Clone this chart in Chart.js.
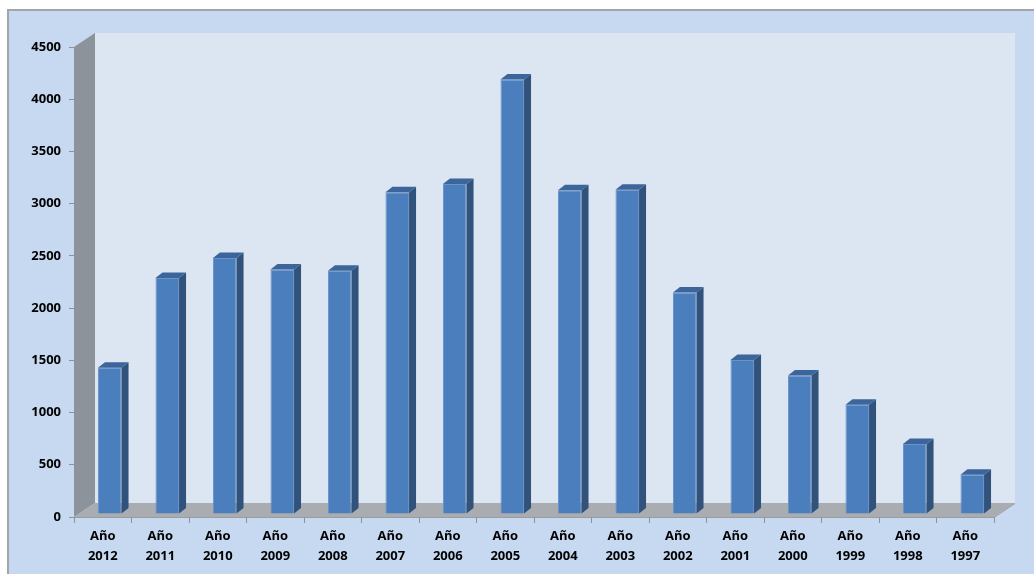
<!DOCTYPE html>
<html>
<head>
<meta charset="utf-8">
<script src="https://cdn.jsdelivr.net/npm/chart.js@4/dist/chart.umd.min.js"></script>
<style>
  html, body { margin: 0; padding: 0; background: #ffffff; }
  #wrap { width: 1034px; height: 574px; }
</style>
</head>
<body>
<div id="wrap"><canvas id="c" width="1034" height="574"></canvas></div>
<script>
// ---- data ----
const labelPrefix = 'Año';
const years = ['2012','2011','2010','2009','2008','2007','2006','2005','2004','2003','2002','2001','2000','1999','1998','1997'];
const values = [1400, 2260, 2450, 2340, 2330, 3080, 3160, 4160, 3100, 3105, 2120, 1475, 1325, 1045, 670, 375];
const yMin = 0;
const yMax = 4500;
const yStep = 500;

// ---- 3D look ----
const DEPTH_X = 21, DEPTH_Y = -14;      // wall depth
const BAR_SHIFT_X = 7, BAR_SHIFT_Y = -3; // bars sit a little behind the front edge
const BAR_DX = 7, BAR_DY = -5.5;         // bar depth

const frame3d = {
  id: 'frame3d',
  beforeDraw(chart) {
    const ctx = chart.ctx, ca = chart.chartArea;
    const W = chart.width, H = chart.height;
    ctx.save();
    ctx.fillStyle = '#ffffff';
    ctx.fillRect(0, 0, W, H);
    ctx.fillStyle = '#c6d9f0';
    ctx.fillRect(9, 11, W - 9, H - 11);
    ctx.fillStyle = '#a3a6a9';
    ctx.fillRect(7, 9, W - 7, 2);
    ctx.fillRect(7, 9, 2, H - 9);
    const L = ca.left, R = ca.right, T = ca.top, B = ca.bottom;
    // back wall
    ctx.fillStyle = '#dce6f2';
    ctx.fillRect(L + DEPTH_X, T + DEPTH_Y, R - L, B - T);
    // left wall
    ctx.fillStyle = '#8c939b';
    ctx.beginPath();
    ctx.moveTo(L, T); ctx.lineTo(L + DEPTH_X, T + DEPTH_Y);
    ctx.lineTo(L + DEPTH_X, B + DEPTH_Y); ctx.lineTo(L, B); ctx.closePath();
    ctx.fill();
    // floor
    ctx.fillStyle = '#a9adb2';
    ctx.beginPath();
    ctx.moveTo(L, B); ctx.lineTo(L + DEPTH_X, B + DEPTH_Y);
    ctx.lineTo(R + DEPTH_X, B + DEPTH_Y); ctx.lineTo(R, B); ctx.closePath();
    ctx.fill();
    ctx.strokeStyle = '#9a9ea3';
    ctx.lineWidth = 1;
    ctx.beginPath();
    ctx.moveTo(L, B + 0.5); ctx.lineTo(R, B + 0.5);
    ctx.lineTo(R + DEPTH_X, B + DEPTH_Y + 0.5);
    ctx.stroke();
    ctx.restore();
  },
  beforeDatasetsDraw(chart) {
    chart.ctx.save();
    chart.ctx.translate(BAR_SHIFT_X, BAR_SHIFT_Y);
  },
  afterDatasetsDraw(chart) {
    const ctx = chart.ctx;
    const meta = chart.getDatasetMeta(0);
    meta.data.forEach(bar => {
      const p = bar.getProps(['x', 'y', 'base', 'width'], true);
      const l = p.x - p.width / 2, r = p.x + p.width / 2;
      // side face
      ctx.fillStyle = '#30527b';
      ctx.beginPath();
      ctx.moveTo(r, p.y); ctx.lineTo(r + BAR_DX, p.y + BAR_DY);
      ctx.lineTo(r + BAR_DX, p.base + BAR_DY); ctx.lineTo(r, p.base); ctx.closePath();
      ctx.fill();
      // top face
      ctx.fillStyle = '#3b659b';
      ctx.beginPath();
      ctx.moveTo(l, p.y); ctx.lineTo(l + BAR_DX, p.y + BAR_DY);
      ctx.lineTo(r + BAR_DX, p.y + BAR_DY); ctx.lineTo(r, p.y); ctx.closePath();
      ctx.fill();
    });
    ctx.restore();
  }
};

new Chart(document.getElementById('c'), {
  type: 'bar',
  data: {
    labels: years.map(y => [labelPrefix, y]),
    datasets: [{
      data: values,
      backgroundColor: '#4a7ebd',
      borderColor: '#6a93c8',
      borderWidth: 1,
      categoryPercentage: 1.0,
      barPercentage: 0.41
    }]
  },
  options: {
    responsive: false,
    animation: false,
    devicePixelRatio: 1,
    layout: { padding: { top: 47, right: 40, left: 0, bottom: 0 } },
    plugins: { legend: { display: false }, tooltip: { enabled: false } },
    scales: {
      x: {
        afterFit(s) { s.height = 57; },
        grid: { drawOnChartArea: false, drawTicks: true, tickLength: 6, color: '#8e9296', offset: true },
        border: { display: false },
        ticks: {
          color: '#000000',
          font: { family: 'Open Sans', weight: 'bold', size: 13, lineHeight: 1.5 },
          padding: 4,
          maxRotation: 0
        }
      },
      y: {
        min: yMin,
        max: yMax,
        afterFit(s) { s.width = 74; },
        grid: { drawOnChartArea: false, drawTicks: true, tickLength: 5, color: '#8e9296' },
        border: { display: false },
        ticks: {
          stepSize: yStep,
          color: '#000000',
          font: { family: 'Open Sans', weight: 'bold', size: 13 },
          padding: 8,
          callback: (v) => String(v)
        }
      }
    }
  },
  plugins: [frame3d]
});
</script>
</body>
</html>
